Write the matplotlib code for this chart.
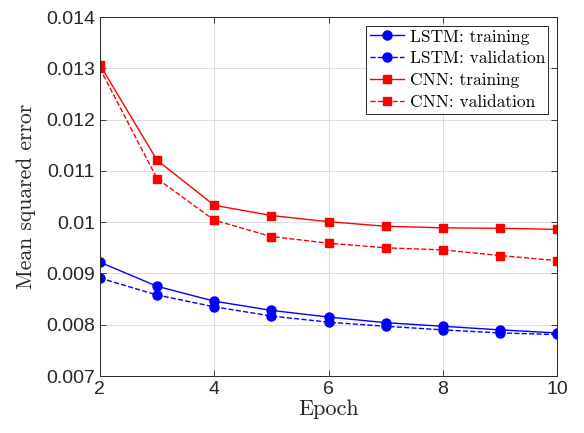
import matplotlib
matplotlib.use("Agg")
import matplotlib.pyplot as plt

epochs = [2, 3, 4, 5, 6, 7, 8, 9, 10]
lstm_train = [0.00922, 0.00875, 0.00846, 0.00828, 0.00815, 0.00804, 0.00797, 0.00790, 0.00784]
lstm_val = [0.00891, 0.00858, 0.00835, 0.00817, 0.00805, 0.00797, 0.00790, 0.00784, 0.00781]
cnn_train = [0.01307, 0.01121, 0.01033, 0.01013, 0.01001, 0.00992, 0.00989, 0.00988, 0.00986]
cnn_val = [0.01300, 0.01085, 0.01004, 0.00972, 0.00959, 0.00950, 0.00946, 0.00935, 0.00925]

xticks = [2, 4, 6, 8, 10]
yticks = [0.007, 0.008, 0.009, 0.010, 0.011, 0.012, 0.013, 0.014]
ytick_labels = ["0.007", "0.008", "0.009", "0.01", "0.011", "0.012", "0.013", "0.014"]

plt.rcParams["mathtext.fontset"] = "cm"
serif = "cmr10"

fig = plt.figure(figsize=(5.84, 4.33), dpi=100)
ax = fig.add_axes([0.171, 0.1316, 0.783, 0.829])

ax.plot(epochs, lstm_train, "-o", color="blue", lw=1.0, ms=6.5, label="LSTM: training")
ax.plot(epochs, lstm_val, "--o", color="blue", lw=1.0, ms=6.5, label="LSTM: validation")
ax.plot(epochs, cnn_train, "-s", color="red", lw=1.0, ms=5.5, label="CNN: training")
ax.plot(epochs, cnn_val, "--s", color="red", lw=1.0, ms=5.5, label="CNN: validation")

ax.set_xlim(2, 10)
ax.set_ylim(0.007, 0.014)
ax.set_xticks(xticks)
ax.set_yticks(yticks)
ax.set_yticklabels(ytick_labels)
ax.grid(True, color="#dcdcdc", lw=0.7)
ax.set_axisbelow(True)
ax.tick_params(direction="in", top=True, right=True, labelsize=14, colors="#262626", length=4, width=0.6)
for s in ax.spines.values():
    s.set_color("#262626")
    s.set_linewidth(0.7)
for lab in ax.get_xticklabels() + ax.get_yticklabels():
    lab.set_family(["Liberation Sans", "DejaVu Sans"])
    lab.set_color("#262626")

ax.set_xlabel("Epoch", fontsize=16, family=serif, color="#262626", labelpad=1)
ax.set_ylabel("Mean squared error", fontsize=15.5, family=serif, color="#262626", labelpad=7)

leg = ax.legend(loc="upper right", prop={"family": serif, "size": 12.5}, fancybox=False,
                framealpha=1, edgecolor="#262626", borderaxespad=0.5, handlelength=2.0,
                handletextpad=0.3, labelspacing=0.38, borderpad=0.2)
leg.get_frame().set_linewidth(0.7)

fig.savefig("out.png", dpi=100)
